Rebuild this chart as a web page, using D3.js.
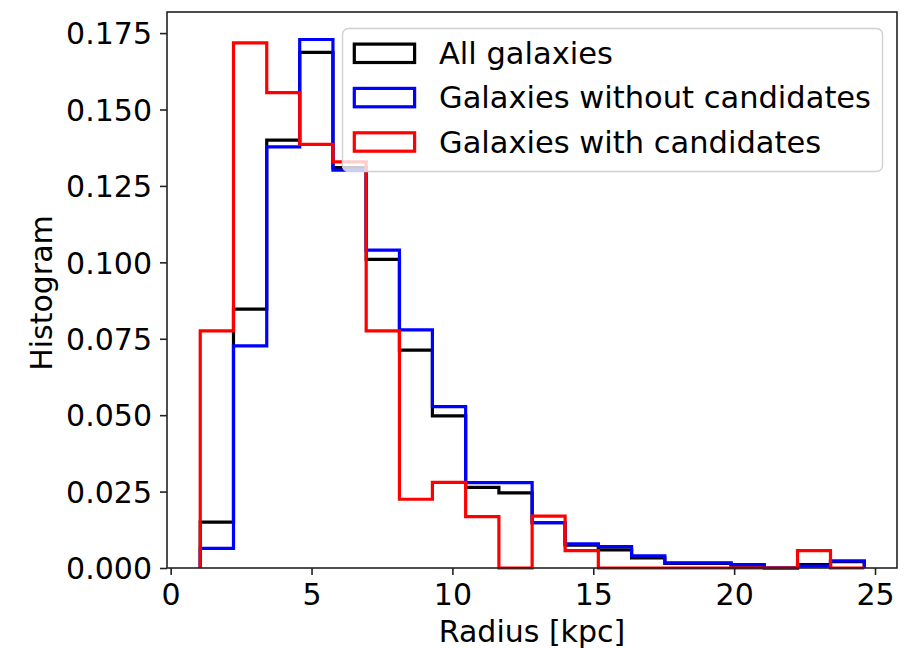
<!DOCTYPE html>
<html>
<head>
<meta charset="utf-8">
<script src="https://cdn.jsdelivr.net/npm/d3@7"></script>
<style>
  body { margin: 0; background: #fff; }
  text { font-family: "DejaVu Sans", sans-serif; fill: #000; }
</style>
</head>
<body>
<div id="chart"></div>
<script>
var width = 908;
var height = 648;
var margin = {top: 12, right: 11, bottom: 80, left: 167};

// bin edges in kpc (20 bins)
var binEdges = [1.05, 2.23, 3.41, 4.58, 5.76, 6.94, 8.12, 9.29, 10.47, 11.65, 12.83,
                14.00, 15.18, 16.36, 17.54, 18.71, 19.89, 21.07, 22.25, 23.42, 24.62];

// normalized histogram heights per bin
var allGalaxies = [0.0150, 0.0847, 0.1400, 0.1687, 0.1310, 0.1010, 0.0713, 0.0498, 0.0264, 0.0246,
                   0.0148, 0.0075, 0.0059, 0.0033, 0.0015, 0.0015, 0.0009, 0.0000, 0.0011, 0.0021];
var withoutCand = [0.0064, 0.0727, 0.1378, 0.1729, 0.1302, 0.1040, 0.0779, 0.0528, 0.0279, 0.0279,
                   0.0148, 0.0079, 0.0070, 0.0040, 0.0017, 0.0017, 0.0011, 0.0000, 0.0006, 0.0023];
var withCand    = [0.0776, 0.1718, 0.1555, 0.1386, 0.1329, 0.0776, 0.0225, 0.0280, 0.0168, 0.0000,
                   0.0170, 0.0057, 0.0000, 0.0000, 0.0000, 0.0000, 0.0000, 0.0000, 0.0057, 0.0000];

var seriesNames = ["All galaxies", "Galaxies without candidates", "Galaxies with candidates"];
var seriesColors = ["#000000", "#0000ff", "#ff0000"];

var xTicks = [0, 5, 10, 15, 20, 25];
var yTicks = [0, 0.025, 0.05, 0.075, 0.1, 0.125, 0.15, 0.175];

var x = d3.scaleLinear().domain([-0.13, 25.78]).range([margin.left, width - margin.right]);
var y = d3.scaleLinear().domain([0, 0.1819]).range([height - margin.bottom, margin.top]);

var svg = d3.select("#chart").append("svg")
  .attr("width", width)
  .attr("height", height);

// step outline like matplotlib histtype='step'
function stepPoints(vals) {
  var pts = [[binEdges[0], 0]];
  vals.forEach(function(v, i) {
    pts.push([binEdges[i], v]);
    pts.push([binEdges[i + 1], v]);
  });
  pts.push([binEdges[binEdges.length - 1], 0]);
  return pts;
}

var line = d3.line()
  .x(function(d) { return x(d[0]); })
  .y(function(d) { return y(d[1]); });

[allGalaxies, withoutCand, withCand].forEach(function(vals, i) {
  svg.append("path")
    .attr("d", line(stepPoints(vals)))
    .attr("fill", "none")
    .attr("stroke", seriesColors[i])
    .attr("stroke-width", 3.2)
    .attr("stroke-linejoin", "miter");
});

// axes
var xAxis = d3.axisBottom(x).tickValues(xTicks).tickSize(7).tickPadding(9).tickFormat(d3.format("d"));
var gx = svg.append("g")
  .attr("transform", "translate(0," + (height - margin.bottom) + ")")
  .call(xAxis);

var yAxis = d3.axisLeft(y).tickValues(yTicks).tickSize(7).tickPadding(8).tickFormat(d3.format(".3f"));
var gy = svg.append("g")
  .attr("transform", "translate(" + margin.left + ",0)")
  .call(yAxis);

[gx, gy].forEach(function(g) {
  g.select(".domain").remove();
  g.selectAll(".tick line").attr("stroke", "#222").attr("stroke-width", 1.6);
  g.selectAll(".tick text").attr("font-size", 30).attr("fill", "#000")
    .style("font-family", "DejaVu Sans");
});
gy.selectAll(".tick text").attr("dy", "0.36em");

// spines
svg.append("rect")
  .attr("x", margin.left)
  .attr("y", margin.top)
  .attr("width", width - margin.right - margin.left)
  .attr("height", height - margin.bottom - margin.top)
  .attr("fill", "none")
  .attr("stroke", "#222")
  .attr("stroke-width", 1.6);

// axis titles
svg.append("text")
  .attr("text-anchor", "middle")
  .attr("x", (margin.left + width - margin.right) / 2)
  .attr("y", 642)
  .attr("font-size", 30)
  .text("Radius [kpc]");

svg.append("text")
  .attr("text-anchor", "middle")
  .attr("transform", "translate(52," + 293 + ") rotate(-90)")
  .attr("font-size", 30)
  .text("Histogram");

// legend
var legend = svg.append("g");
legend.append("rect")
  .attr("x", 342.5)
  .attr("y", 28.5)
  .attr("width", 540)
  .attr("height", 143)
  .attr("rx", 6)
  .attr("fill", "#fff")
  .attr("fill-opacity", 0.8)
  .attr("stroke", "#d0d0d0")
  .attr("stroke-width", 1.4);

var rowY = [53.3, 97.6, 142];
seriesNames.forEach(function(name, i) {
  legend.append("rect")
    .attr("x", 354.3)
    .attr("y", rowY[i] - 9.2)
    .attr("width", 60.3)
    .attr("height", 18.4)
    .attr("fill", "none")
    .attr("stroke", seriesColors[i])
    .attr("stroke-width", 3.2);
  legend.append("text")
    .attr("x", 439)
    .attr("y", rowY[i] + 10.7)
    .attr("font-size", 30.5)
    .text(name);
});
</script>
</body>
</html>
